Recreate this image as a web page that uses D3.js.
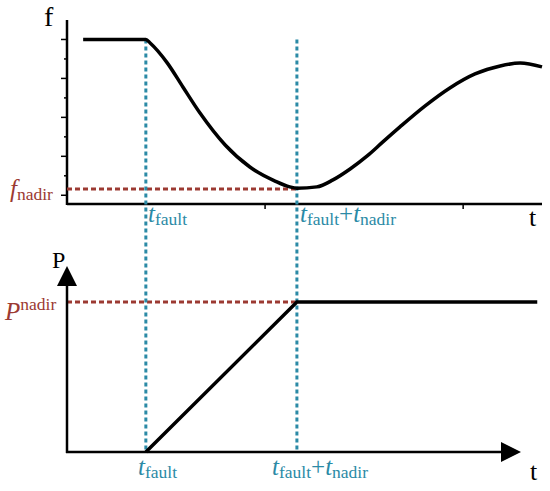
<!DOCTYPE html>
<html><head><meta charset="utf-8">
<script src="https://cdn.jsdelivr.net/npm/d3@7"></script>
<style>body{margin:0;background:#fff}</style>
</head><body><svg id="chart" width="550" height="491"></svg>
<script>
// frequency curve (t, f)
const freqT = [3.4, 16.6, 17.5, 21.1, 24.4, 28, 33.3, 38.5, 43.8, 46.9, 48.4, 52.6, 56, 59.6, 63.2, 66.5, 70.1, 75.4, 80.6, 85.9, 91.2, 95.4, 100];
const freqF = [8, 8, 7.82, 6.8, 5.56, 4.22, 2.58, 1.45, 0.73, 0.43, 0.36, 0.43, 0.79, 1.35, 2.02, 2.74, 3.51, 4.59, 5.51, 6.23, 6.64, 6.79, 6.59];
const fTicks = [0, 1, 2, 3, 4, 5, 6, 7, 8];
const tTicks = [41.7, 83.4];
const tFault = 16.6, tNadir = 48.4, fNadir = 0.32;
// power curve (t, P)
const powT = [16.6, 48.4, 99];
const powP = [0, 1, 1];

const blue = "#2b8aa6", red = "#9c3a32";
const font = "Liberation Serif, DejaVu Serif, serif";
const svg = d3.select("#chart");
const x = d3.scaleLinear().domain([0, 100]).range([67, 542]);
const yf = d3.scaleLinear().domain([-0.5, 9]).range([205, 20]);
const yp = d3.scaleLinear().domain([0, 1]).range([452, 302]);

// top axes
svg.append("line").attr("x1", x(0)).attr("x2", x(0)).attr("y1", 20).attr("y2", 205)
    .attr("stroke", "#000").attr("stroke-width", 2.5);
svg.append("line").attr("x1", x(0)).attr("x2", x(100)).attr("y1", 204).attr("y2", 204)
    .attr("stroke", "#000").attr("stroke-width", 2.5);
svg.selectAll(".ft").data(fTicks).enter().append("line")
    .attr("x1", d => d % 2 === 0 ? x(0) - 6 : x(0) - 3).attr("x2", x(0))
    .attr("y1", d => yf(d)).attr("y2", d => yf(d)).attr("stroke", "#000").attr("stroke-width", 1.5);
svg.selectAll(".tt").data(tTicks).enter().append("line")
    .attr("x1", d => x(d)).attr("x2", d => x(d)).attr("y1", 204).attr("y2", 209)
    .attr("stroke", "#000").attr("stroke-width", 1.5);

// dashed guides
svg.append("line").attr("x1", x(0)).attr("x2", x(tNadir)).attr("y1", yf(fNadir)).attr("y2", yf(fNadir))
    .attr("stroke", red).attr("stroke-width", 3).attr("stroke-dasharray", "5,3");
svg.append("line").attr("x1", x(0)).attr("x2", x(tNadir)).attr("y1", yp(1)).attr("y2", yp(1))
    .attr("stroke", red).attr("stroke-width", 3).attr("stroke-dasharray", "5,3");
[tFault, tNadir].forEach(t => {
    svg.append("line").attr("x1", x(t)).attr("x2", x(t)).attr("y1", yf(8)).attr("y2", yp(0))
        .attr("stroke", blue).attr("stroke-width", 3).attr("stroke-dasharray", "4,3");
});

// frequency curve
svg.append("path").datum(d3.range(freqT.length))
    .attr("fill", "none").attr("stroke", "#000").attr("stroke-width", 3.5)
    .attr("d", d3.line().x(i => x(freqT[i])).y(i => yf(freqF[i])).curve(d3.curveMonotoneX));

// bottom axes with arrows
svg.append("defs").append("marker").attr("id", "arr").attr("viewBox", "0 0 10 10")
    .attr("refX", 2).attr("refY", 5).attr("markerWidth", 24).attr("markerHeight", 20)
    .attr("markerUnits", "userSpaceOnUse").attr("orient", "auto")
    .append("path").attr("d", "M0,0L10,5L0,10z").attr("fill", "#000");
svg.append("line").attr("x1", x(0)).attr("x2", x(0)).attr("y1", yp(0) + 1).attr("y2", 282)
    .attr("stroke", "#000").attr("stroke-width", 2.5).attr("marker-end", "url(#arr)");
svg.append("line").attr("x1", x(0) - 1).attr("x2", 505).attr("y1", yp(0)).attr("y2", yp(0))
    .attr("stroke", "#000").attr("stroke-width", 2.5).attr("marker-end", "url(#arr)");

svg.append("path").datum(d3.range(powT.length))
    .attr("fill", "none").attr("stroke", "#000").attr("stroke-width", 3.5)
    .attr("d", d3.line().x(i => x(powT[i])).y(i => yp(powP[i])));

// labels
function label(px, py, parts, color, size) {
    const t = svg.append("text").attr("x", px).attr("y", py).attr("fill", color)
        .attr("font-size", size).attr("font-family", font);
    parts.forEach(p => {
        const s = t.append("tspan").text(p[0]);
        if (p[1] === "i") s.attr("font-style", "italic");
        if (p[1] === "sub") s.attr("font-size", size * 0.7).attr("dy", 3);
        if (p[1] === "sup") s.attr("font-size", size * 0.7).attr("dy", -9);
        if (p[2]) s.attr("dy", p[2]);
    });
}
label(44, 26, [["f"]], "#000", 28);
label(529, 226, [["t"]], "#000", 26);
label(52, 268, [["P"]], "#000", 24);
label(530, 480, [["t"]], "#000", 26);
label(10, 197, [["f", "i"], ["nadir", "sub"]], red, 25);
label(5, 320, [["P", "i"], ["nadir", "sup", -10]], red, 25);
label(148, 222, [["t", "i"], ["fault", "sub"]], blue, 25);
label(300, 222, [["t", "i"], ["fault", "sub"], ["+", "", -3], ["t", "i"], ["nadir", "sub", 3]], blue, 25);
label(138, 475, [["t", "i"], ["fault", "sub"]], blue, 25);
label(272, 475, [["t", "i"], ["fault", "sub"], ["+", "", -3], ["t", "i"], ["nadir", "sub", 3]], blue, 25);
</script></body></html>
